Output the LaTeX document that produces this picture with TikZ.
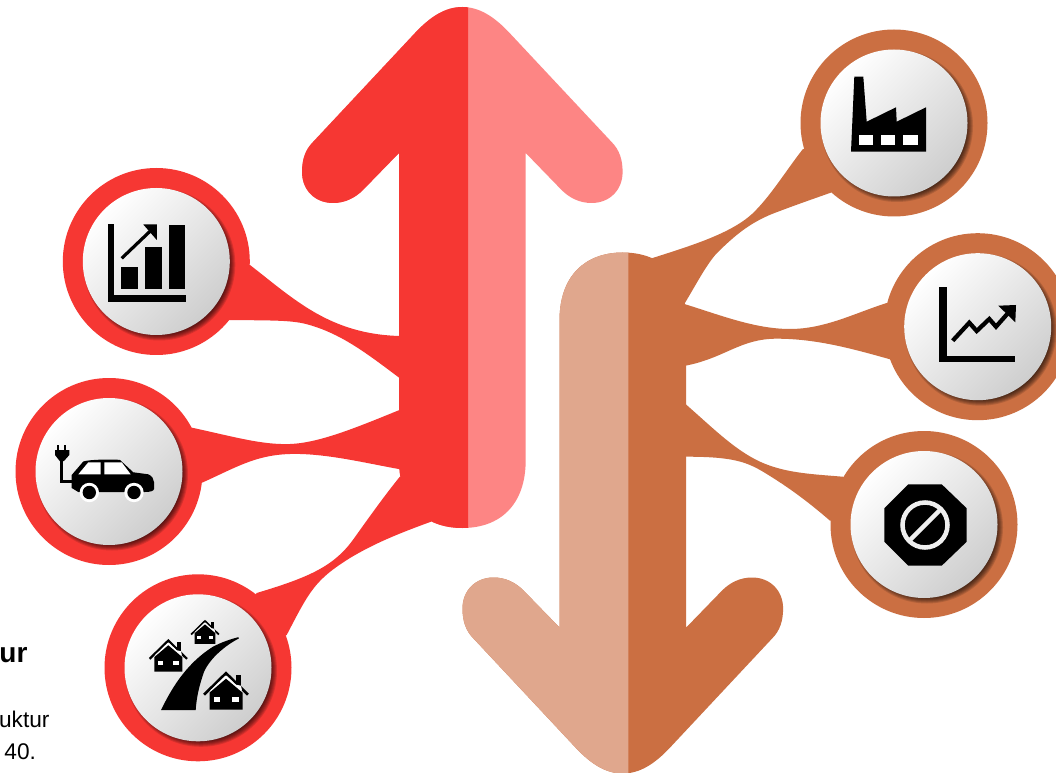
\documentclass[tikz,border=0pt]{standalone}
\usepackage{fontspec}
\setmainfont{Liberation Sans}
\definecolor{redD}{HTML}{F63733}
\definecolor{redL}{HTML}{FD8584}
\definecolor{oraD}{HTML}{CB6F42}
\definecolor{oraL}{HTML}{E0A78D}
\definecolor{faceEnd}{HTML}{CECECE}
\definecolor{faceMid}{HTML}{F8F8F8}
\definecolor{glyphPale}{HTML}{EFEFEF}
\tikzset{
  ringdisc/.style={circle,inner sep=0pt,outer sep=0pt,minimum size=140.25pt},
  facedisc/.style={circle,inner sep=0pt,outer sep=0pt,minimum size=110.25pt,
    top color=white,middle color=faceMid,bottom color=faceEnd,shading angle=45},
  glyph/.style={fill=black},
  glyphline/.style={draw=black,line cap=butt,line join=miter},
  caption/.style={inner sep=0pt,outer sep=0pt,anchor=base east},
}
\newcommand{\arrowoutline}{
  (462.3,7) .. controls (445,7) and (430,17) .. (415,33) -- (313,142)
  .. controls (305,150) and (302,160) .. (302,172)
  .. controls (302,190) and (315,203) .. (333,203)
  .. controls (345,203) and (355,198) .. (363,190) -- (399,153) -- (399,460)
  .. controls (399,505) and (425,528) .. (462.3,528)
  .. controls (500,528) and (525.7,505) .. (525.7,460) -- (525.7,153) -- (561.6,190)
  .. controls (569.6,198) and (579.6,203) .. (591.6,203)
  .. controls (609.6,203) and (622.6,190) .. (622.6,172)
  .. controls (622.6,160) and (619.6,150) .. (611.6,142) -- (509.6,33)
  .. controls (494.6,17) and (479.6,7) .. (462.3,7) -- cycle}
\newcommand{\badge}[3]{%
  \node[ringdisc,fill=#2] (#1) at (#3) {};
  \foreach \rr in {70,71,72,73,74,75,76}
    \fill[black,opacity=0.13] ([shift={(3,3)}]#3) circle (\rr);
  \node[facedisc] (#1face) at (#3) {};
}
\newcommand{\house}[3]{%
  \begin{scope}[shift={(#1,#2)},scale=#3]
    \draw[black,line width=2pt*#3,line join=miter] (-22,23) -- (0,1.5) -- (22,23);
    \fill[glyph] (10,3) rectangle (14.5,14);
    \fill[white] (-1,4.5) -- (1,4.5) -- (10,13) -- (15,14) -- (16,19) -- (-16,19) -- cycle;
    \fill[glyph] (0,7) -- (16.5,21) -- (16.5,38) -- (-16.5,38) -- (-16.5,21) -- cycle;
    \fill[white] (-12.5,25) rectangle (-6,30.5);
    \fill[white] (6,25) rectangle (12.5,30.5);
  \end{scope}}
\begin{document}
\begin{tikzpicture}[x=0.75pt,y=-0.75pt]
\useasboundingbox (0,0) rectangle (1056,773);
\clip (0,0) rectangle (1056,773);
\fill[white] (0,0) rectangle (1056,773);
% anchors of the badges
\coordinate (pChart) at (156.3,261.5);
\coordinate (pCar) at (109,471.5);
\coordinate (pHomes) at (198,667.8);
\coordinate (pFactory) at (894,123);
\coordinate (pLine) at (977.7,326.7);
\coordinate (pStop) at (924,524.5);
% caption fragments
\node[caption,font=\bfseries\fontsize{21}{25}\selectfont] (capA) at (27.5,662.5) {ur};
\node[caption,font=\fontsize{17}{20}\selectfont] (capB) at (49.5,727) {uktur};
\node[caption,font=\fontsize{17}{20}\selectfont] (capC) at (36,759) {40.};
% red arrow
\fill[redL] \arrowoutline;
\begin{scope}
  \clip (0,0) rectangle (468,773);
  \fill[redD] \arrowoutline;
\end{scope}
% orange arrow
\begin{scope}[shift={(160.5,780.5)},yscale=-1]
  \fill[oraD] \arrowoutline;
\end{scope}
\begin{scope}
  \clip (0,0) rectangle (628.3,773);
  \begin{scope}[shift={(160.5,780.5)},yscale=-1]
    \fill[oraL] \arrowoutline;
  \end{scope}
\end{scope}
% red tendrils
\fill[redD] (250,265) .. controls (295,300) and (330,334) .. (399.5,336) -- (425,357) -- (399.5,378)
  .. controls (365,352) and (340,333) .. (306,324) .. controls (290,320) and (270,320.5) .. (229.3,320)
  -- (pChart) -- cycle;
\fill[redD] (192,427.7) .. controls (235,437) and (262,445) .. (290,444) .. controls (320,443) and (360,426) .. (399.5,410)
  -- (425,440) -- (400.3,469.3) .. controls (365,463) and (325,453) .. (290,454) .. controls (255,455) and (235,468) .. (202,482.7)
  -- (pCar) -- cycle;
\fill[redD] (256.7,593) .. controls (310,577) and (335,566) .. (355,537) .. controls (370,516) and (385,495) .. (400,476.5)
  -- (440,490) -- (431,521.7) .. controls (400,533) and (375,543) .. (350,558) .. controls (315,580) and (310,590) .. (286.7,635)
  -- (pHomes) -- cycle;
% orange tendrils
\fill[oraD] (802.7,149.3) .. controls (785,172) and (770,197) .. (752,214) .. controls (730,234) and (690,246) .. (651.7,258.3)
  -- (650,290) -- (684.3,304) .. controls (697,283) and (705,267) .. (716,254) .. controls (735,235) and (750,223) .. (772,214) .. controls (790,207) and (810,200) .. (830.7,192.7)
  -- (pFactory) -- cycle;
\fill[oraD] (684.3,304) .. controls (720,315) and (755,329) .. (790,329) .. controls (825,329) and (855,313) .. (886.7,303)
  -- (pLine) -- (890,359.3) .. controls (850,348) and (815,338.7) .. (776.7,338.7) .. controls (740,338.7) and (725,358) .. (685.5,365.7)
  -- (660,335) -- cycle;
\fill[oraD] (685.5,404) .. controls (715,430) and (735,450) .. (760,461.7) .. controls (785,473) and (810,474) .. (842.7,476.7)
  -- (pStop) -- (830,520.7) .. controls (805,499) and (785,485) .. (763,471.7) .. controls (745,461) and (730,456.7) .. (685.5,456.7)
  -- (660,430) -- cycle;
% badges
\badge{chart}{redD}{pChart}
\badge{car}{redD}{pCar}
\badge{homes}{redD}{pHomes}
\badge{factory}{oraD}{pFactory}
\badge{linechart}{oraD}{pLine}
\badge{stopsign}{oraD}{pStop}
% bar chart icon
\fill[glyph] (108.3,224.3) rectangle (114.3,301.7);
\fill[glyph] (108.3,295.2) rectangle (186,301.7);
\fill[glyph] (121,266.7) rectangle (138.3,289);
\fill[glyph] (145,246.7) rectangle (161.7,289);
\fill[glyph] (169.3,225) rectangle (185,289);
\draw[black,line width=2.4pt] (121.7,258.3) -- (154,227.5);
\fill[glyph] (143.3,224.5) -- (156.8,224.5) -- (156.8,240) -- cycle;
% car icon
\fill[glyph] (57.3,444.5) rectangle (59.3,450);
\fill[glyph] (64.3,444.5) rectangle (66.3,450);
\fill[glyph] (55,450) -- (69.3,450) -- (69.3,455) -- (64,461) -- (59.7,461) -- (55,455) -- cycle;
\draw[black,line width=2.1pt] (61.7,461) -- (61.7,481.7) -- (75,481.7);
\fill[glyph] (71.7,488) -- (71.7,475) -- (83.3,461.5) .. controls (88,459.5) and (115,459) .. (120,460) -- (133.3,472.3) -- (148.3,474.3) .. controls (152,476) and (154,479) .. (154,482) -- (154,489) .. controls (154,491) and (150,492) .. (145,492) -- (78.3,492) -- cycle;
\fill[white] (78.3,474.3) -- (100.7,474.3) -- (100.7,462.3) -- (88.3,462.3) -- cycle;
\fill[white] (104.3,474.3) -- (130.7,474.3) -- (121.7,462.3) -- (104.3,462.3) -- cycle;
\fill[white] (89.3,492.5) circle (9.7);
\fill[white] (134,492.5) circle (9.7);
\fill[glyph] (89.3,492.5) circle (6.7);
\fill[glyph] (134,492.5) circle (6.7);
% homes icon
\fill[glyph] (161,710) .. controls (170,692) and (184,665) .. (213,646.7) .. controls (222,642) and (231,639) .. (238.3,637.2) -- (238.8,638.5) .. controls (226,645) and (210,658) .. (204,672) .. controls (199,686) and (196.5,698) .. (195.7,710) -- cycle;
\house{226}{671.7}{1}
\house{168.3}{639.3}{0.85}
\house{205}{620}{0.63}
% factory icon
\fill[glyph] (854.3,76.7) -- (863.3,76.7) -- (866.7,121.7) -- (896,107.3) -- (896.7,121.7) -- (926,107.3) -- (926,151.7) -- (851,151.7) -- cycle;
\fill[white] (859.3,135) rectangle (872.7,145);
\fill[white] (881,135) rectangle (895,145);
\fill[white] (903.3,135) rectangle (918.3,145);
% line chart icon
\fill[glyph] (939.3,286.7) rectangle (946.7,361.7);
\fill[glyph] (939.3,355.7) rectangle (1015.3,361.7);
\draw[glyphline,line width=3.2pt] (952.7,340.7) -- (969.3,322.7) -- (976.7,331) -- (989.3,319) -- (996,326.7) -- (1009,312);
\fill[glyph] (998.3,305.7) -- (1016,305) -- (1015.3,322.3) -- cycle;
% stop sign icon
\fill[glyph] (908.3,484.3) -- (941.7,484.3) -- (966.7,508.3) -- (966.7,541.7) -- (941.7,565.7) -- (908.3,565.7) -- (884.3,541.7) -- (884.3,508.3) -- cycle;
\draw[glyphPale,line width=3.4pt] (925,525) circle (22.5);
\draw[glyphPale,line width=3.4pt] (910,540) -- (940,510);
\end{tikzpicture}
\end{document}
